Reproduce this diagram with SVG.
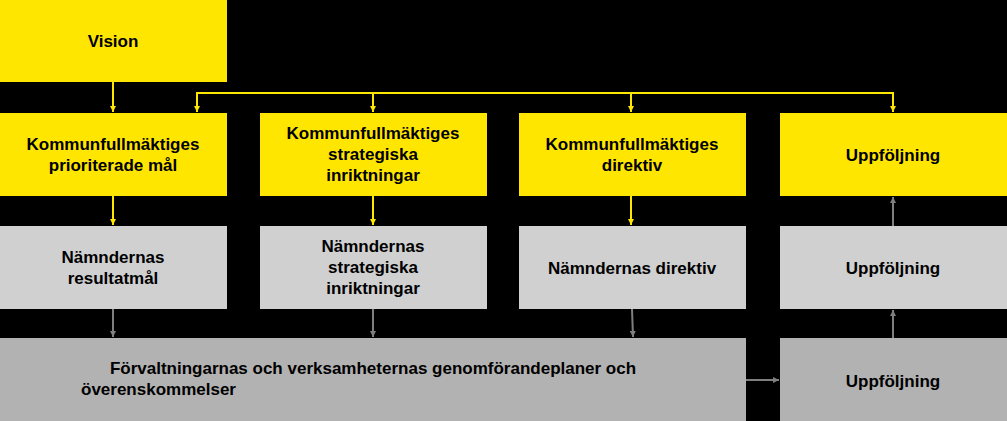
<svg xmlns="http://www.w3.org/2000/svg" width="1007" height="421" viewBox="0 0 1007 421">
<style>
.y{fill:#FFE600}.l{fill:#D0D0D0}.d{fill:#B2B2B2}
text{font-family:"Liberation Sans",Arial,sans-serif;font-weight:bold;font-size:17px;fill:#000;text-anchor:middle}
.cy{stroke:#FFE600;stroke-width:2;fill:none}.cg{stroke:#7F7F7F;stroke-width:2;fill:none}
</style>
<defs>
<marker id="ay" viewBox="0 0 10 10" refX="10" refY="5" markerWidth="6" markerHeight="6" orient="auto" markerUnits="userSpaceOnUse"><path d="M0,0L10,5L0,10z" fill="#FFE600"/></marker>
<marker id="ag" viewBox="0 0 10 10" refX="10" refY="5" markerWidth="6" markerHeight="6" orient="auto" markerUnits="userSpaceOnUse"><path d="M0,0L10,5L0,10z" fill="#7F7F7F"/></marker>
</defs>
<rect width="1007" height="421" fill="#000"/>
<g id="vision"><rect class="y" x="0" y="0" width="227" height="82"/><text x="113" y="47">Vision</text></g>
<g id="kf1"><rect class="y" x="0" y="113" width="227" height="83"/><text x="113" y="150">Kommunfullmäktiges</text><text x="113" y="171">prioriterade mål</text></g>
<g id="kf2"><rect class="y" x="260" y="113" width="227" height="83"/><text x="373" y="139">Kommunfullmäktiges</text><text x="373" y="160">strategiska</text><text x="373" y="181">inriktningar</text></g>
<g id="kf3"><rect class="y" x="519" y="113" width="227" height="83"/><text x="632" y="150">Kommunfullmäktiges</text><text x="632" y="171">direktiv</text></g>
<g id="kf4"><rect class="y" x="780" y="113" width="227" height="83"/><text x="893" y="161">Uppföljning</text></g>
<g id="n1"><rect class="l" x="0" y="226" width="227" height="83"/><text x="113" y="263">Nämndernas</text><text x="113" y="284">resultatmål</text></g>
<g id="n2"><rect class="l" x="260" y="226" width="227" height="83"/><text x="373" y="252">Nämndernas</text><text x="373" y="273">strategiska</text><text x="373" y="294">inriktningar</text></g>
<g id="n3"><rect class="l" x="519" y="226" width="227" height="83"/><text x="632" y="274">Nämndernas direktiv</text></g>
<g id="n4"><rect class="l" x="780" y="226" width="227" height="83"/><text x="893" y="274">Uppföljning</text></g>
<g id="f"><rect class="d" x="0" y="338" width="746" height="83"/><text x="373" y="374">Förvaltningarnas och verksamheternas genomförandeplaner och</text><text x="81" y="395" style="text-anchor:start">överenskommelser</text></g>
<g id="u3"><rect class="d" x="780" y="338" width="227" height="83"/><text x="893" y="387">Uppföljning</text></g>
<g id="connectors">
<path class="cy" d="M113,82V112" marker-end="url(#ay)"/>
<path class="cy" d="M197,112V93H893V112"/>
<path class="cy" d="M197,93V112" marker-end="url(#ay)"/>
<path class="cy" d="M373,93V112" marker-end="url(#ay)"/>
<path class="cy" d="M631,93V112" marker-end="url(#ay)"/>
<path class="cy" d="M893,93V112" marker-end="url(#ay)"/>
<path class="cy" d="M113,196V225" marker-end="url(#ay)"/>
<path class="cy" d="M373,196V225" marker-end="url(#ay)"/>
<path class="cy" d="M631,196V225" marker-end="url(#ay)"/>
<path class="cg" d="M113,309V337" marker-end="url(#ag)"/>
<path class="cg" d="M373,309V337" marker-end="url(#ag)"/>
<path class="cg" d="M632,309L633,337" marker-end="url(#ag)"/>
<path class="cg" d="M893,226V197" marker-end="url(#ag)"/>
<path class="cg" d="M893,338V310" marker-end="url(#ag)"/>
<path class="cg" d="M746,380H779" marker-end="url(#ag)"/>
</g>
</svg>
